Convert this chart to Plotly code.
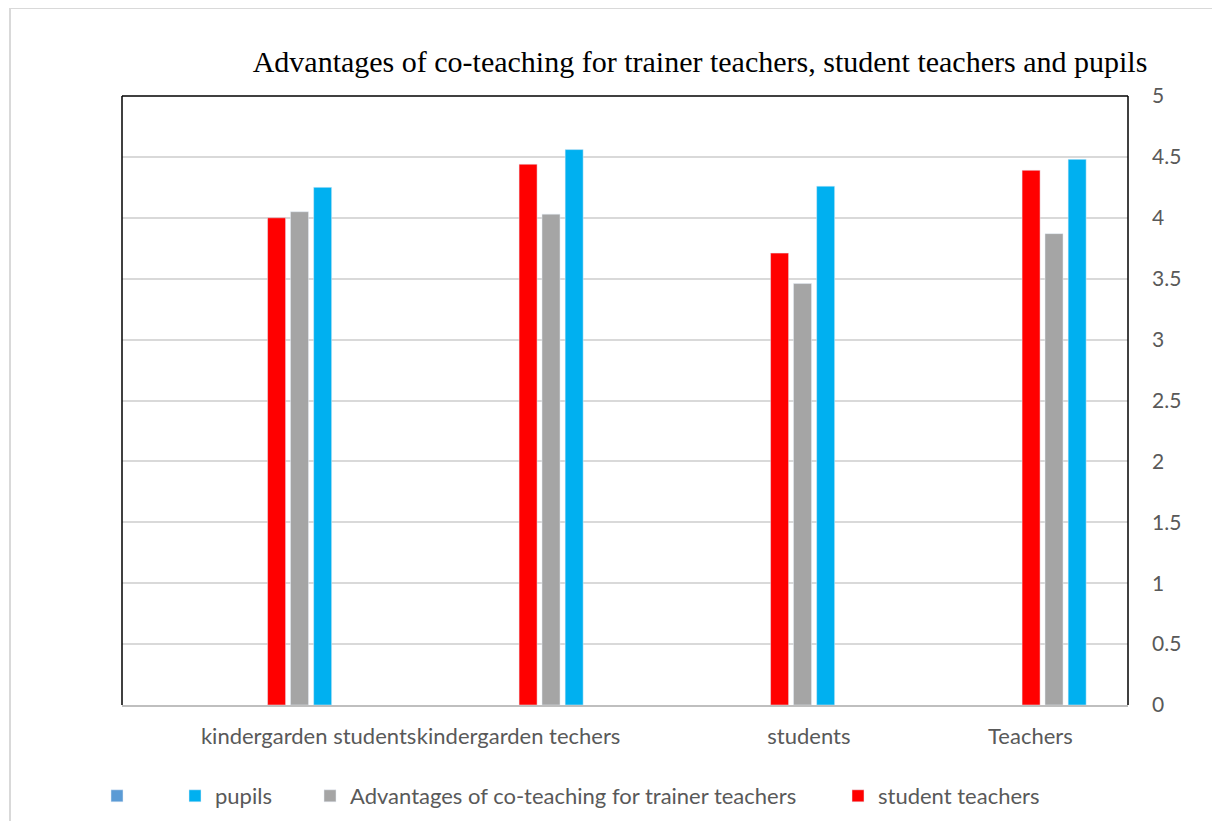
import plotly.graph_objects as go

categories = ["kindergarden students", "kindergarden techers", "students", "Teachers"]
student_teachers = [4.00, 4.44, 3.71, 4.39]
advantages_trainer = [4.05, 4.03, 3.46, 3.87]
pupils = [4.25, 4.56, 4.26, 4.48]
empty_series = [None, None, None, None]
y_ticks = [0, 0.5, 1, 1.5, 2, 2.5, 3, 3.5, 4, 4.5, 5]

# page body has an 8px margin: build the figure 16px smaller and shift coordinates by 8px
OFF = 8
W, H = 1220 - 2 * OFF, 829 - 2 * OFF
ML, MT = 122 - OFF, 96 - OFF
MR = W - (1128 - OFF)
MB = H - (705 - OFF)
pw, ph = W - ML - MR, H - MT - MB

xpos = list(range(len(categories)))
bar_w = 0.0716
label_shift = [0.242, 0.077, 0.231, 0.112]  # where the source draws each label
tickvals = [p + s for p, s in zip(xpos, label_shift)]

txt = "#595959"
fig = go.Figure()
fig.add_trace(go.Bar(x=xpos, y=empty_series, name="", marker_color="#5B9BD5",
                     width=bar_w, offset=0.0, legend="legend"))
fig.add_trace(go.Bar(x=xpos, y=pupils, name="pupils", marker_color="#00B0F0",
                     width=bar_w, offset=0.262, legend="legend2"))
fig.add_trace(go.Bar(x=xpos, y=advantages_trainer, name="Advantages of co-teaching for trainer teachers",
                     marker_color="#A5A5A5", width=bar_w, offset=0.170, legend="legend3"))
fig.add_trace(go.Bar(x=xpos, y=student_teachers, name="student teachers", marker_color="#FF0000",
                     width=bar_w, offset=0.0788, legend="legend4"))

def fx(x):  # reference pixel -> paper x
    return (x - OFF - ML) / pw

def fy(y):  # reference pixel -> paper y
    return (H - MB - (y - OFF)) / ph

shapes = [
    dict(type="line", xref="paper", yref="paper", x0=fx(10), x1=fx(1230), y0=fy(8), y1=fy(8),
         line=dict(color="#D9D9D9", width=2)),
    dict(type="line", xref="paper", yref="paper", x0=fx(10), x1=fx(10), y0=fy(8), y1=fy(840),
         line=dict(color="#D9D9D9", width=2)),
    dict(type="line", xref="paper", yref="paper", x0=0, x1=0, y0=0, y1=1, line=dict(color="black", width=1.5)),
    dict(type="line", xref="paper", yref="paper", x0=0, x1=1, y0=1, y1=1, line=dict(color="black", width=1.5)),
    dict(type="line", xref="paper", yref="paper", x0=1, x1=1, y0=0, y1=1, line=dict(color="black", width=1.5)),
]

legfont = dict(family="Lato", size=22, color=txt)
def leg(xpix):
    return dict(orientation="h", xref="container", yref="container", x=(xpix - OFF - 15) / W,
                y=1 - (796 - OFF) / H, xanchor="left", yanchor="middle", font=legfont,
                bgcolor="rgba(0,0,0,0)", itemwidth=30, traceorder="normal")

fig.update_layout(
    width=W, height=H,
    margin=dict(l=ML, r=MR, t=MT, b=MB, autoexpand=False),
    paper_bgcolor="white", plot_bgcolor="white",
    barmode="overlay",
    title=dict(text="Advantages of co-teaching for trainer teachers, student teachers and pupils",
               x=(700 - OFF) / W, xanchor="center", y=1 - (61 - OFF) / H, yanchor="middle",
               font=dict(family="Liberation Serif", size=30, color="black")),
    xaxis=dict(range=[-0.5, 3.5], tickvals=tickvals, ticktext=categories, showgrid=False, zeroline=False,
               showline=True, linecolor="#BFBFBF", linewidth=1.5, ticks="", ticklabelstandoff=11,
               tickangle=0, automargin=False,
               tickfont=dict(family="Lato", size=22, color=txt)),
    yaxis=dict(side="right", range=[0, 5], tickvals=y_ticks, ticktext=[f"{v:g}" for v in y_ticks],
               showgrid=True, gridcolor="#D9D9D9", gridwidth=1.5, zeroline=False, showline=False,
               ticks="", ticklabelstandoff=23, automargin=False,
               tickfont=dict(family="Lato", size=21, color=txt)),
    shapes=shapes,
    legend=leg(112), legend2=leg(190), legend3=leg(325), legend4=leg(853),
    showlegend=True,
)

fig.write_html("out.html")
